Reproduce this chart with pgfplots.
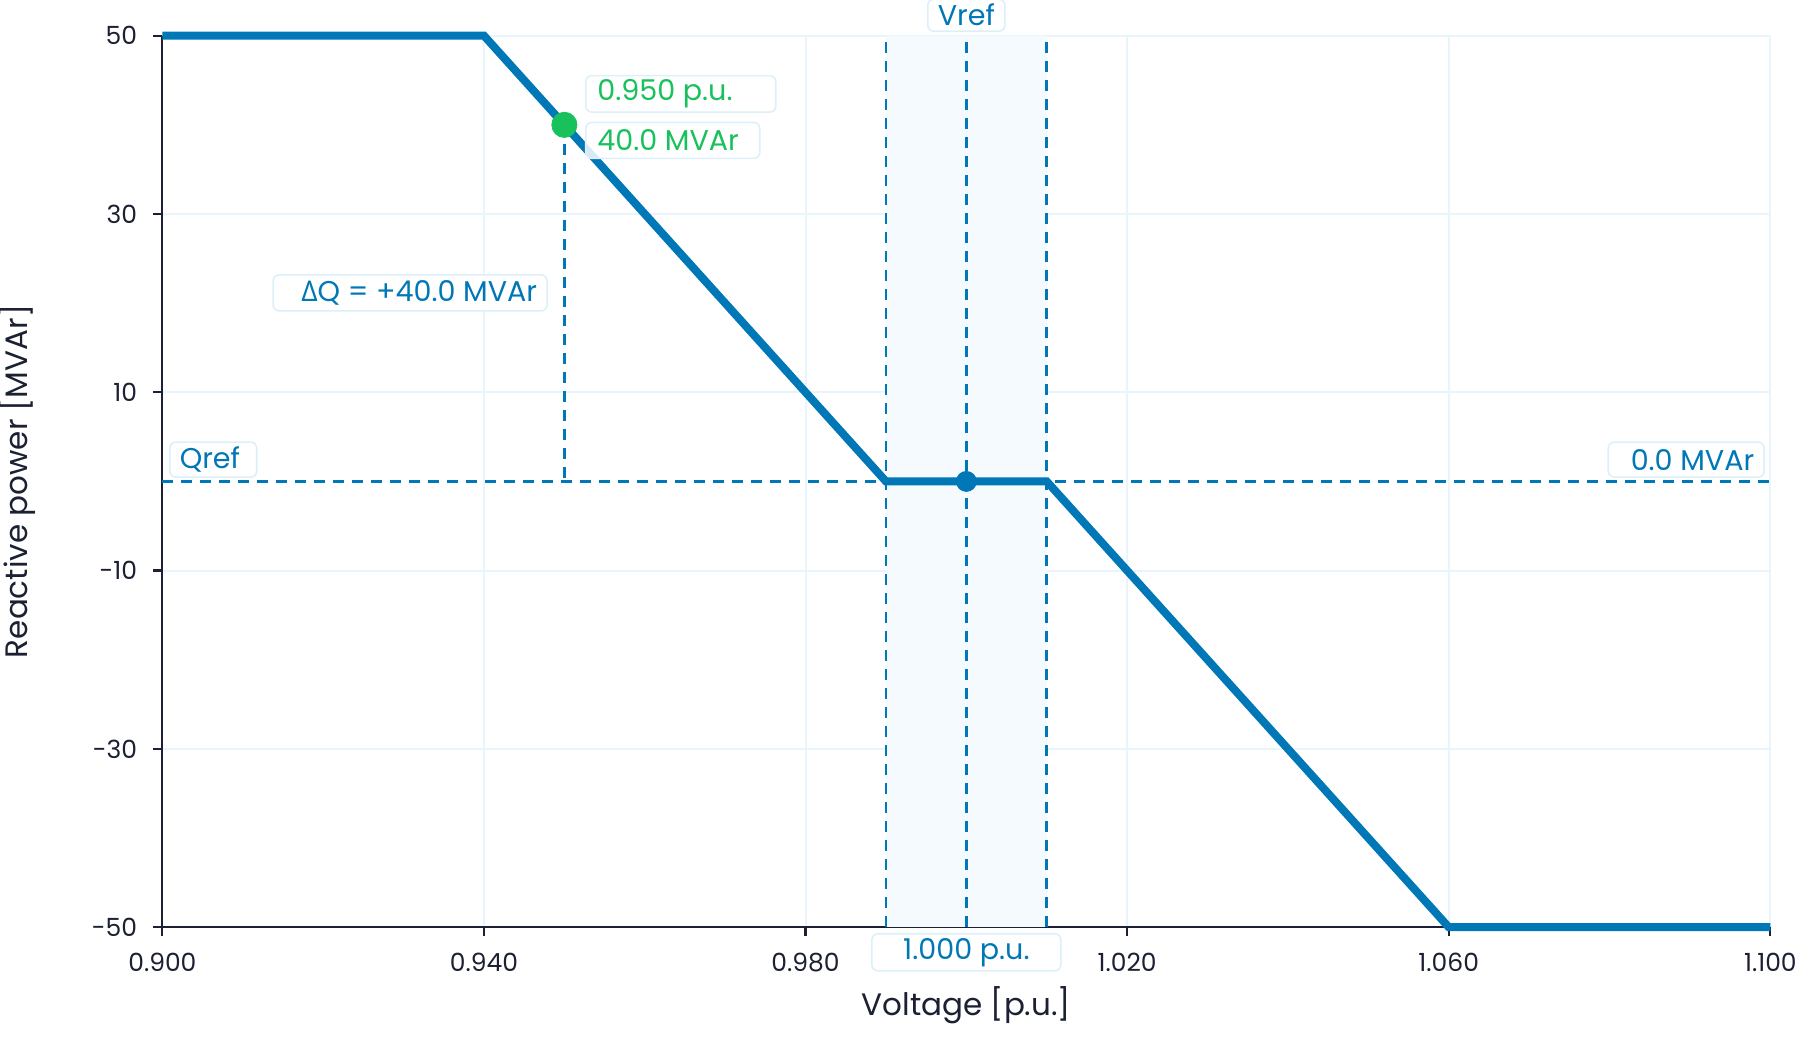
\documentclass[border=0pt]{standalone}
\usepackage{fontspec}
\setmainfont{Poppins}
\newfontfamily\grk{Open Sans}
\usepackage{pgfplots}
\pgfplotsset{compat=1.18}
\definecolor{cblue}{HTML}{0077B6}
\definecolor{cgreen}{HTML}{18C15B}
\definecolor{cgrid}{HTML}{E8F5FC}
\definecolor{cband}{HTML}{F4FAFE}
\definecolor{cdark}{HTML}{1B2032}
\definecolor{cbox}{HTML}{DDF0FA}
\tikzset{box/.style={fill=white, fill opacity=0.85, text opacity=1, draw=cbox, line width=0.8pt,
  rounded corners=3pt, inner xsep=5pt, inner ysep=2pt, minimum height=18pt,
  font=\fontsize{14.3}{16}\selectfont}}
\begin{document}
\begin{tikzpicture}
\begin{axis}[
  scale only axis, width=804pt, height=445.75pt,
  xmin=0.9, xmax=1.1, ymin=-50, ymax=50,
  axis x line=bottom, axis y line=left,
  axis line style={-, cdark, line width=1.1pt},
  xtick={0.9,0.94,0.98,1.02,1.06,1.1},
  ytick={-50,-30,-10,10,30,50},
  yticklabels={-50,-30,-10,10,30,50},
  xticklabel style={/pgf/number format/fixed, /pgf/number format/fixed zerofill, /pgf/number format/precision=3, yshift=-5pt},
  yticklabel style={xshift=-4.6pt},
  grid=major, major grid style={cgrid, line width=1pt},
  tick align=outside, major tick length=4.5pt, tick style={cdark, line width=1.1pt},
  /pgf/number format/assume math mode=true,
  ticklabel style={font=\fontsize{12.5}{15}\selectfont, text=cdark},
  label style={font=\fontsize{15.5}{18}\selectfont, text=cdark},
  xlabel={Voltage [p.u.]}, ylabel={Reactive power [MVAr]},
  x label style={at={(axis description cs:0.5,-0.0875)}, anchor=center},
  y label style={at={(axis description cs:-0.0904,0.5)}, anchor=center},
  clip=false,
]
\coordinate (sw) at (rel axis cs:0,0);
\coordinate (ne) at (rel axis cs:1,1);
% dead band
\addplot[fill=cband, draw=none] coordinates {(0.99,-50) (0.99,50) (1.01,50) (1.01,-50)} -- cycle;
% dashed guides
\addplot[cblue, line width=1.3pt, dash pattern=on 5.5pt off 4pt] coordinates {(0.99,-50) (0.99,50)};
\addplot[cblue, line width=1.3pt, dash pattern=on 5.5pt off 4pt] coordinates {(1.0,-50) (1.0,50)};
\addplot[cblue, line width=1.3pt, dash pattern=on 5.5pt off 4pt] coordinates {(1.01,-50) (1.01,50)};
\addplot[cblue, line width=1.3pt, dash pattern=on 5.5pt off 4pt] coordinates {(0.9,0) (1.1,0)};
\addplot[cblue, line width=1.3pt, dash pattern=on 5.5pt off 4pt] coordinates {(0.95,40) (0.95,0)};
% droop curve
\addplot[cblue, line width=4pt] coordinates {(0.9,50) (0.94,50) (0.99,0) (1.01,0) (1.06,-50) (1.1,-50)};
% points
\addplot[only marks, mark=*, mark size=5pt, color=cblue, mark options={draw=none, fill=cblue}] coordinates {(1.0,0)};
\addplot[only marks, mark=*, mark size=6.3pt, color=cgreen, mark options={draw=none, fill=cgreen}] coordinates {(0.95,40)};
% annotations
\node[box, text=cgreen, anchor=west, inner xsep=5.8pt, xshift=10.3pt, yshift=15.5pt] at (axis cs:0.95,40) {\makebox[83.4pt][l]{0.950 p.u.}};
\node[box, text=cgreen, anchor=west, inner xsep=5.8pt, xshift=10.3pt, yshift=-7.8pt] at (axis cs:0.95,40) {\makebox[75.4pt][l]{40.0 MVAr}};
\node[box, text=cblue, anchor=east, xshift=-8.2pt, yshift=5.1pt] at (axis cs:0.95,20) {\makebox[127pt][r]{{\grk Δ}Q = +40.0 MVAr}};
\node[box, text=cblue, anchor=south west, minimum height=17.5pt, xshift=3.3pt, yshift=1.75pt] at (axis cs:0.9,0) {\makebox[33.5pt][l]{Qref}};
\node[box, text=cblue, anchor=south east, minimum height=17.5pt, xshift=-2.65pt, yshift=1.75pt] at (axis cs:1.1,0) {\makebox[68pt][r]{0.0 MVAr}};
\node[box, text=cblue, anchor=south, minimum width=38pt, minimum height=16pt, yshift=1.85pt] at (axis cs:1.0,50) {Vref};
\node[box, text=cblue, anchor=north, minimum width=94.5pt, minimum height=18.5pt, yshift=-2.9pt] at (axis cs:1.0,-50) {1.000 p.u.};
\end{axis}
\pgfresetboundingbox
\path[use as bounding box] ([xshift=-81.2pt,yshift=-54.9pt]sw) rectangle ([xshift=17.85pt,yshift=17.85pt]ne);
\end{tikzpicture}
\end{document}
